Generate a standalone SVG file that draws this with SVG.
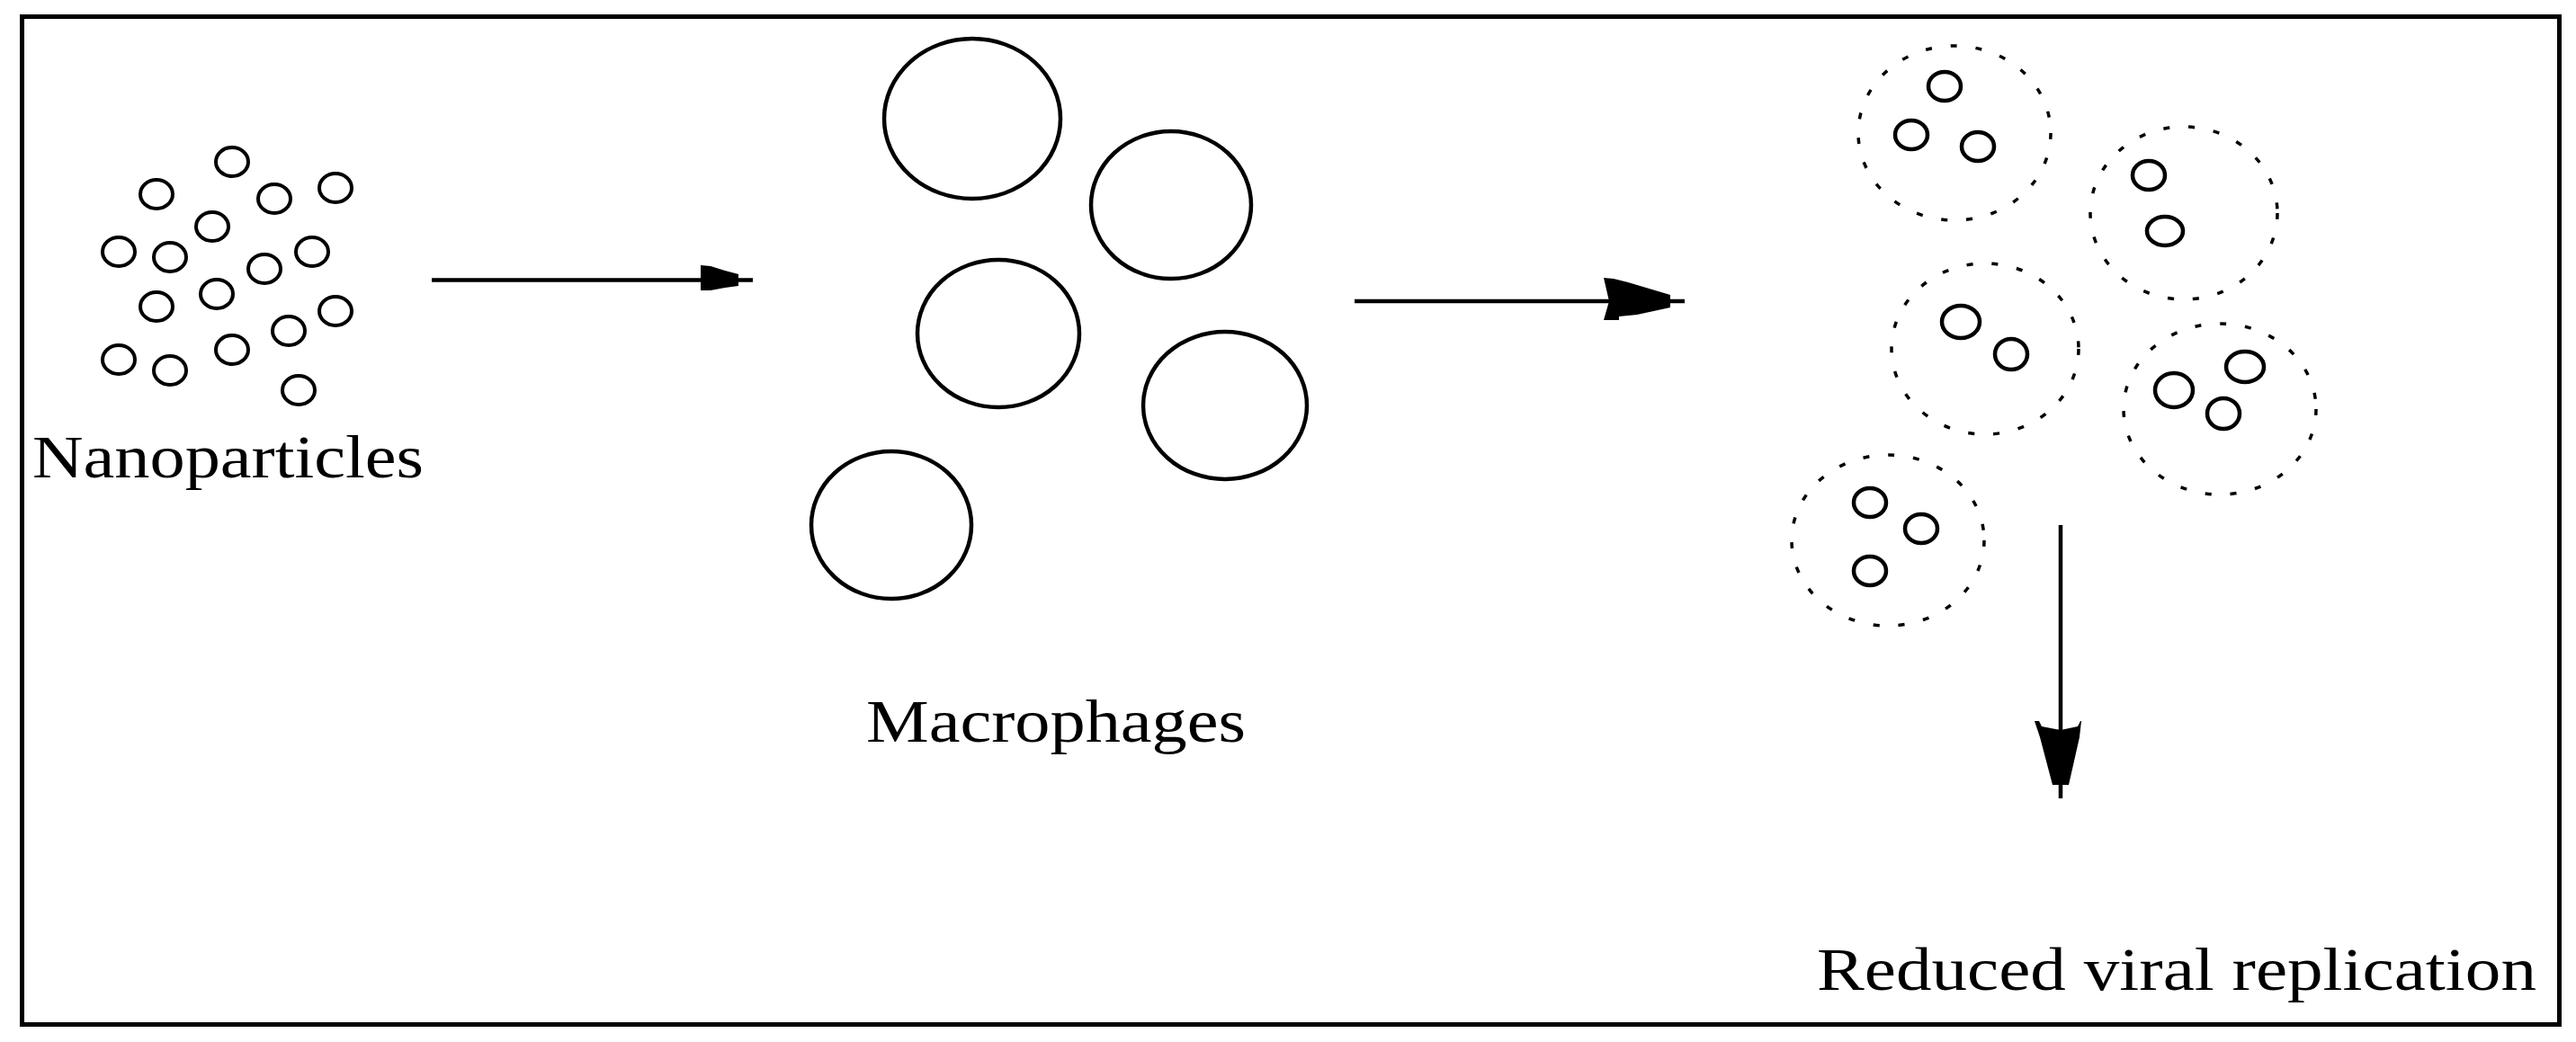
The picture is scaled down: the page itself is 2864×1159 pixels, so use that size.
<svg xmlns="http://www.w3.org/2000/svg" width="2864" height="1159" viewBox="0 0 2864 1159">
<style>
.np{fill:none;stroke:#000;stroke-width:4}
.mac{fill:none;stroke:#000;stroke-width:4.5}
.inf{fill:none;stroke:#000;stroke-width:3.5;stroke-dasharray:7 21}
.vir{fill:none;stroke:#000;stroke-width:4.5}
.lbl{font-family:"Liberation Serif","Times New Roman",serif;font-size:68px;fill:#000}
.ln{stroke:#000;stroke-width:4.5;fill:none}
.hd{fill:#000;stroke:none}
</style>
<rect x="0" y="0" width="2864" height="1159" fill="#fff"/>
<rect x="24.5" y="18.5" width="2821" height="1121" fill="none" stroke="#000" stroke-width="5"/>

<g id="nanoparticles">
<ellipse class="np" cx="258" cy="180" rx="18" ry="16"/>
<ellipse class="np" cx="174" cy="216" rx="18" ry="16"/>
<ellipse class="np" cx="305" cy="221" rx="18" ry="16"/>
<ellipse class="np" cx="373" cy="209" rx="18" ry="16"/>
<ellipse class="np" cx="236" cy="252" rx="18" ry="16"/>
<ellipse class="np" cx="132" cy="280" rx="18" ry="16"/>
<ellipse class="np" cx="189" cy="286" rx="18" ry="16"/>
<ellipse class="np" cx="294" cy="299" rx="18" ry="16"/>
<ellipse class="np" cx="347" cy="280" rx="18" ry="16"/>
<ellipse class="np" cx="174" cy="341" rx="18" ry="16"/>
<ellipse class="np" cx="241" cy="327" rx="18" ry="16"/>
<ellipse class="np" cx="321" cy="368" rx="18" ry="16"/>
<ellipse class="np" cx="373" cy="346" rx="18" ry="16"/>
<ellipse class="np" cx="132" cy="400" rx="18" ry="16"/>
<ellipse class="np" cx="189" cy="412" rx="18" ry="16"/>
<ellipse class="np" cx="258" cy="389" rx="18" ry="16"/>
<ellipse class="np" cx="332" cy="434" rx="18" ry="16"/>
<text class="lbl" x="36" y="531" textLength="435" lengthAdjust="spacingAndGlyphs">Nanoparticles</text>
</g>

<g id="macrophages">
<ellipse class="mac" cx="1081" cy="132" rx="98" ry="89"/>
<ellipse class="mac" cx="1302" cy="228" rx="89" ry="82"/>
<ellipse class="mac" cx="1110" cy="371" rx="90" ry="82"/>
<ellipse class="mac" cx="1362" cy="451" rx="91" ry="82"/>
<ellipse class="mac" cx="991" cy="584" rx="89" ry="82"/>
<text class="lbl" x="963" y="825" textLength="422" lengthAdjust="spacingAndGlyphs">Macrophages</text>
</g>

<g id="infected-macrophages">
<ellipse class="inf" cx="2173" cy="148" rx="107" ry="97"/>
<ellipse class="vir" cx="2162" cy="96" rx="18" ry="16"/>
<ellipse class="vir" cx="2125" cy="150" rx="18" ry="16"/>
<ellipse class="vir" cx="2199" cy="163" rx="18" ry="16"/>

<ellipse class="inf" cx="2428" cy="237" rx="104" ry="96"/>
<ellipse class="vir" cx="2389" cy="195" rx="18" ry="16"/>
<ellipse class="vir" cx="2407" cy="257" rx="20" ry="16"/>

<ellipse class="inf" cx="2207" cy="388" rx="104" ry="95"/>
<ellipse class="vir" cx="2180" cy="358" rx="21" ry="18"/>
<ellipse class="vir" cx="2236" cy="394" rx="18" ry="17"/>

<ellipse class="inf" cx="2468" cy="455" rx="107" ry="95"/>
<ellipse class="vir" cx="2496" cy="408" rx="21" ry="17"/>
<ellipse class="vir" cx="2417" cy="434" rx="21" ry="19"/>
<ellipse class="vir" cx="2472" cy="460" rx="18" ry="17"/>

<ellipse class="inf" cx="2099" cy="601" rx="107" ry="95"/>
<ellipse class="vir" cx="2079" cy="559" rx="18" ry="16"/>
<ellipse class="vir" cx="2136" cy="588" rx="18" ry="16"/>
<ellipse class="vir" cx="2079" cy="635" rx="18" ry="16"/>
</g>

<g id="outcome">
<text class="lbl" x="2020" y="1101" textLength="800" lengthAdjust="spacingAndGlyphs">Reduced viral replication</text>
</g>

<g id="connectors">
<line class="ln" x1="480" y1="311.5" x2="837" y2="311.5"/>
<polygon class="hd" points="779,295 790,296 806,301 821,305 821,318 806,320 790,323 779,323"/>
<line class="ln" x1="1506" y1="335" x2="1873" y2="335"/>
<polygon class="hd" points="1783,309 1794,310 1810,314 1857,328 1857,342 1820,350 1800,352 1800,356 1783,356 1789,335"/>
<line class="ln" x1="2291" y1="584" x2="2291" y2="888"/>
<polygon class="hd" points="2262,802 2267,802 2270,808 2291,812 2310,808 2313,802 2314,802 2312,820 2300,873 2282,873 2268,820"/>
</g>
</svg>
